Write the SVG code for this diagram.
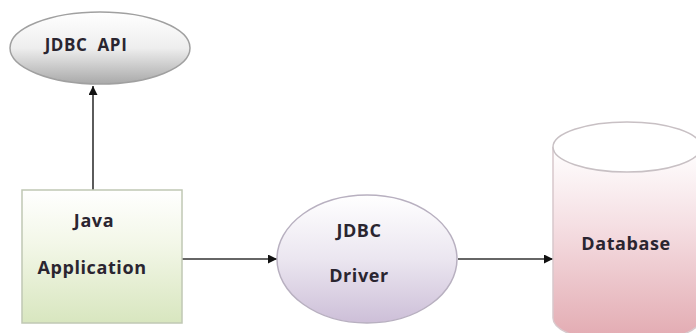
<svg xmlns="http://www.w3.org/2000/svg" width="696" height="333" viewBox="0 0 696 333">
<defs>
<linearGradient id="gGray" x1="0" y1="0" x2="0" y2="1"><stop offset="0" stop-color="#ffffff"/><stop offset="0.5" stop-color="#eeeeee"/><stop offset="1" stop-color="#a9a9a9"/></linearGradient>
<linearGradient id="gGreen" x1="0" y1="0" x2="0" y2="1"><stop offset="0" stop-color="#ffffff"/><stop offset="0.4" stop-color="#f3f7e8"/><stop offset="1" stop-color="#d8e6bf"/></linearGradient>
<linearGradient id="gPurple" x1="0" y1="0" x2="0" y2="1"><stop offset="0" stop-color="#ffffff"/><stop offset="0.5" stop-color="#ebe6f0"/><stop offset="1" stop-color="#cdbfd8"/></linearGradient>
<linearGradient id="gPink" x1="0" y1="0" x2="0" y2="1"><stop offset="0" stop-color="#ffffff"/><stop offset="0.4" stop-color="#f5dfe3"/><stop offset="1" stop-color="#e2a9b0"/></linearGradient>
<marker id="arr" viewBox="0 0 10 10" refX="10" refY="5" markerWidth="9" markerHeight="9" markerUnits="userSpaceOnUse" orient="auto"><path d="M0,0 L10,5 L0,10 z" fill="#111"/></marker>
</defs>
<style>
.t{font-family:"Open Sans","Liberation Sans",sans-serif;font-weight:bold;font-size:18px;letter-spacing:0.6px;fill:#2a2530;text-anchor:middle;dominant-baseline:central}
.c{stroke:#333;stroke-width:1.6;fill:none;marker-end:url(#arr)}
</style>
<rect width="696" height="333" fill="#ffffff"/>
<g id="connectors">
<line class="c" x1="93" y1="190" x2="93" y2="86"/>
<line class="c" x1="182" y1="259" x2="277" y2="259"/>
<line class="c" x1="458" y1="259" x2="553" y2="259"/>
</g>
<g id="jdbc-api">
<ellipse cx="100" cy="48" rx="90" ry="36" fill="url(#gGray)" stroke="#a0a0a0" stroke-width="1.5"/>
<text class="t" x="86" y="44" style="font-size:17px" xml:space="preserve">JDBC  API</text>
</g>
<g id="java-app">
<rect x="22" y="190" width="160" height="133" fill="url(#gGreen)" stroke="#c0c8b4" stroke-width="1.5"/>
<text class="t" x="94" y="220">Java</text>
<text class="t" x="92" y="267">Application</text>
</g>
<g id="jdbc-driver">
<ellipse cx="367" cy="259" rx="90" ry="64" fill="url(#gPurple)" stroke="#b8b0c0" stroke-width="1.5"/>
<text class="t" x="359" y="230">JDBC</text>
<text class="t" x="359" y="275">Driver</text>
</g>
<g id="database">
<path d="M553,147 L553,318 A74,25 0 0 0 701,318 L701,147" fill="url(#gPink)" stroke="#d8c8cc" stroke-width="1.5"/>
<ellipse cx="627" cy="147" rx="74" ry="25" fill="#ffffff" stroke="#c8c0c4" stroke-width="1.5"/>
<text class="t" x="626" y="243">Database</text>
</g>
</svg>
